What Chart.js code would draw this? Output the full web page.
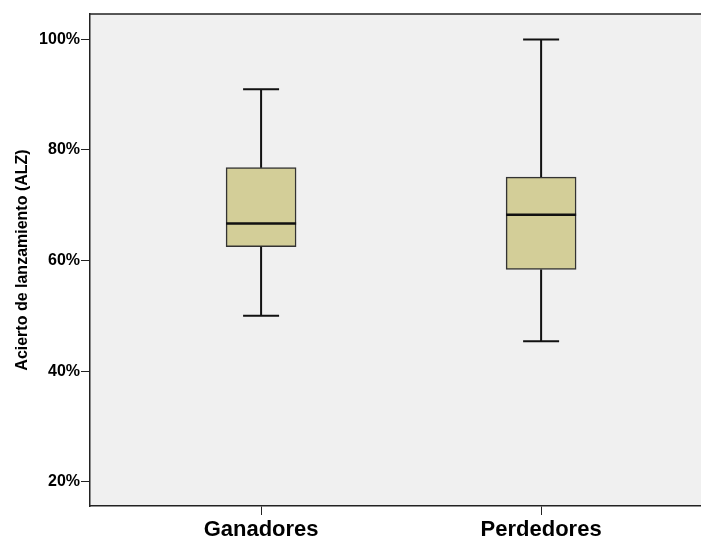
<!DOCTYPE html>
<html>
<head>
<meta charset="utf-8">
<script src="https://cdn.jsdelivr.net/npm/chart.js@4/dist/chart.umd.min.js"></script>
<style>
	html, body { margin: 0; padding: 0; background: #fff; }
	#wrap { width: 701px; height: 541px; }
</style>
</head>
<body>
<div id="wrap"><canvas id="chart"></canvas></div>
<script>
const groups = ["Ganadores", "Perdedores"];
const whiskerLow = [50.0, 45.4];
const quartile1 = [62.5, 58.4];
const medians = [66.7, 68.3];
const quartile3 = [76.8, 75.1];
const whiskerHigh = [91.0, 100.0];
const yTicks = [20, 40, 60, 80, 100];

const boxColor = "#d3ce98";
const lineColor = "#111";

// plot background, top frame line, whiskers and medians
const boxPlotDecor = {
	id: "boxPlotDecor",
	beforeDraw(chart) {
		const { ctx, chartArea: a } = chart;
		ctx.save();
		ctx.fillStyle = "#f0f0f0";
		ctx.fillRect(a.left, a.top, a.right - a.left, a.bottom - a.top);
		ctx.strokeStyle = "#222";
		ctx.lineWidth = 1.5;
		ctx.beginPath();
		ctx.moveTo(a.left, a.top);
		ctx.lineTo(a.right, a.top);
		ctx.stroke();
		ctx.restore();
	},
	afterDatasetsDraw(chart) {
		const { ctx, scales } = chart;
		const xs = scales.x;
		const ys = scales.y;
		ctx.save();
		ctx.strokeStyle = lineColor;
		groups.forEach((g, i) => {
			const x = xs.getPixelForValue(i + 1);
			ctx.lineWidth = 2;
			ctx.beginPath();
			ctx.moveTo(x, ys.getPixelForValue(quartile3[i]));
			ctx.lineTo(x, ys.getPixelForValue(whiskerHigh[i]));
			ctx.moveTo(x, ys.getPixelForValue(quartile1[i]));
			ctx.lineTo(x, ys.getPixelForValue(whiskerLow[i]));
			[whiskerHigh[i], whiskerLow[i]].forEach((v) => {
				const y = ys.getPixelForValue(v);
				ctx.moveTo(x - 18, y);
				ctx.lineTo(x + 18, y);
			});
			ctx.stroke();
			const ym = ys.getPixelForValue(medians[i]);
			ctx.lineWidth = 2.5;
			ctx.beginPath();
			ctx.moveTo(x - 35, ym);
			ctx.lineTo(x + 35, ym);
			ctx.stroke();
		});
		ctx.restore();
	},
};

new Chart(document.getElementById("chart"), {
	type: "bar",
	data: {
		datasets: [
			{
				data: groups.map((g, i) => ({ x: i + 1, y: [quartile1[i], quartile3[i]] })),
				backgroundColor: boxColor,
				borderColor: "#333",
				borderWidth: 1.5,
				borderSkipped: false,
				barThickness: 70,
			},
		],
	},
	options: {
		responsive: true,
		maintainAspectRatio: false,
		animation: false,
		layout: { padding: { top: 14, left: 0, right: 0, bottom: 0 } },
		plugins: {
			legend: { display: false },
			tooltip: { enabled: false },
		},
		scales: {
			x: {
				type: "linear",
				offset: false,
				min: 0.389,
				max: 2.571,
				afterBuildTicks: (scale) => {
					scale.ticks = groups.map((g, i) => ({ value: i + 1 }));
				},
				afterFit: (scale) => {
					scale.height = 35;
				},
				ticks: {
					callback: (v) => groups[v - 1] || "",
					color: "#000",
					padding: 2,
					maxRotation: 0,
					autoSkip: false,
					font: { family: "Liberation Sans", size: 22, weight: "bold" },
				},
				grid: { offset: false, drawOnChartArea: false, tickLength: 9, color: "#222" },
				border: { color: "#222", width: 1.5 },
			},
			y: {
				min: 15.6,
				max: 104.6,
				afterBuildTicks: (scale) => {
					scale.ticks = yTicks.map((v) => ({ value: v }));
				},
				afterFit: (scale) => {
					scale.width = 90;
				},
				ticks: {
					callback: (v) => v + "%",
					color: "#000",
					padding: 1,
					font: { family: "Liberation Sans", size: 16, weight: "bold" },
				},
				title: {
					display: true,
					text: "Acierto de lanzamiento (ALZ)",
					color: "#000",
					padding: { top: 13, bottom: 0 },
					font: { family: "Liberation Sans", size: 16, weight: "bold" },
				},
				grid: { drawOnChartArea: false, tickLength: 9, color: "#222" },
				border: { color: "#222", width: 1.5 },
			},
		},
	},
	plugins: [boxPlotDecor],
});
</script>
</body>
</html>
